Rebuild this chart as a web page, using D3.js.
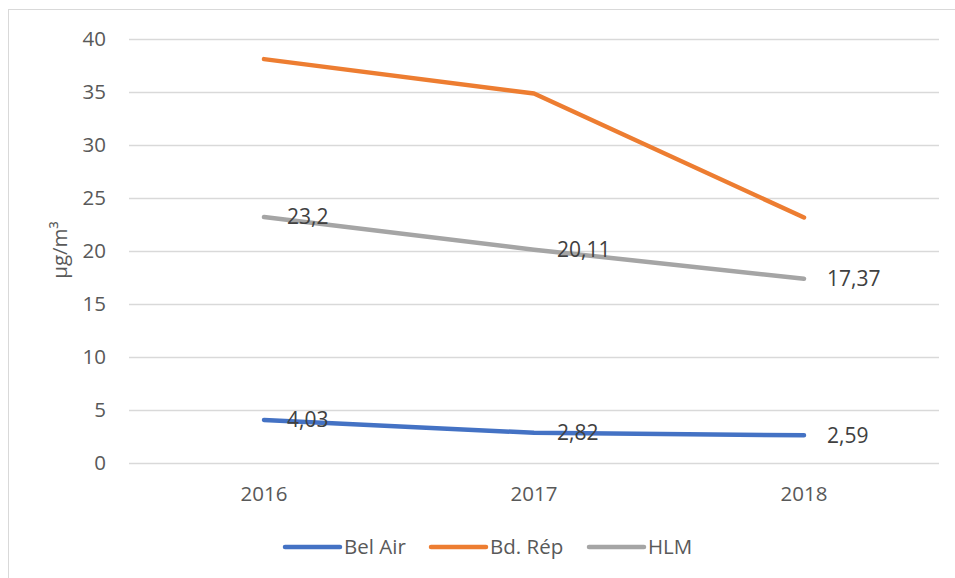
<!DOCTYPE html>
<html>
<head>
	<meta charset="utf-8">
	<title>µg/m³</title>
	<style type="text/css">
		body { margin: 0; background: white; }
		svg { font-family: "Open Sans", "Segoe UI", sans-serif; }
	</style>
</head>
<body>

	<svg width="955" height="578" class="chart"></svg>

	<script src="https://cdn.jsdelivr.net/npm/d3@7"></script>
	<script type="text/javascript">

		var years = ['2016', '2017', '2018']
		var belAir = [4.03, 2.82, 2.59]
		var bdRep = [38.1, 34.85, 23.15]
		var hlm = [23.2, 20.11, 17.37]
		var yTicks = [0, 5, 10, 15, 20, 25, 30, 35, 40]

		var series = [
			{name: 'Bel Air', values: belAir, color: '#4472C4', labels: true},
			{name: 'Bd. Rép', values: bdRep, color: '#ED7D31', labels: false},
			{name: 'HLM', values: hlm, color: '#A5A5A5', labels: true}
		]

		var svg = d3.select('.chart')

		// chart border
		svg.append('rect')
			.attr('x', 8.5).attr('y', 9.5)
			.attr('width', 960).attr('height', 600)
			.attr('fill', 'none')
			.attr('stroke', '#D9D9D9')

		var x = d3.scaleBand().domain(years).range([129, 939])
		var y = d3.scaleLinear().domain([0, 40]).range([462.7, 39])

		// gridlines
		svg.append('g').selectAll('line')
			.data(yTicks).enter().append('line')
			.attr('x1', 129).attr('x2', 939)
			.attr('y1', function(d) { return Math.round(y(d)) + 0.5 })
			.attr('y2', function(d) { return Math.round(y(d)) + 0.5 })
			.attr('stroke', '#D9D9D9')
			.attr('stroke-width', 1.3)

		// y tick labels
		svg.append('g').selectAll('text')
			.data(yTicks).enter().append('text')
			.attr('x', 106)
			.attr('y', function(d) { return y(d) })
			.attr('dy', '0.35em')
			.attr('text-anchor', 'end')
			.attr('font-size', 20.5)
			.attr('fill', '#595959')
			.text(function(d) { return d })

		// x labels
		svg.append('g').selectAll('text')
			.data(years).enter().append('text')
			.attr('x', function(d) { return x(d) + x.bandwidth() / 2 })
			.attr('y', 501)
			.attr('text-anchor', 'middle')
			.attr('font-size', 20.5)
			.attr('fill', '#595959')
			.text(function(d) { return d })

		// y axis title
		svg.append('text')
			.attr('transform', 'translate(67,250) rotate(-90)')
			.attr('text-anchor', 'middle')
			.attr('font-size', 20.5)
			.attr('fill', '#595959')
			.text('µg/m³')

		var line = d3.line()
			.x(function(d, i) { return x(years[i]) + x.bandwidth() / 2 })
			.y(function(d) { return y(d) })

		series.forEach(function(s) {
			svg.append('path')
				.attr('d', line(s.values))
				.attr('fill', 'none')
				.attr('stroke', s.color)
				.attr('stroke-width', 4.5)
				.attr('stroke-linecap', 'round')
				.attr('stroke-linejoin', 'round')
		})

		// data labels
		series.filter(function(s) { return s.labels }).forEach(function(s) {
			svg.append('g').selectAll('text')
				.data(s.values).enter().append('text')
				.attr('x', function(d, i) { return x(years[i]) + x.bandwidth() / 2 + 23 })
				.attr('y', function(d) { return y(d) })
				.attr('dy', '0.35em')
				.attr('font-size', 21)
				.attr('fill', '#404040')
				.text(function(d) { return String(d).replace('.', ',') })
		})

		// legend
		var legendX = [285, 431, 589]
		var lg = svg.append('g').selectAll('g')
			.data(series).enter().append('g')
			.attr('transform', function(d, i) { return 'translate(' + legendX[i] + ',547)' })
		lg.append('line')
			.attr('x1', 0).attr('x2', 55)
			.attr('stroke', function(d) { return d.color })
			.attr('stroke-width', 4.5)
			.attr('stroke-linecap', 'round')
		lg.append('text')
			.attr('x', 59)
			.attr('dy', '0.35em')
			.attr('font-size', 20.5)
			.attr('fill', '#595959')
			.text(function(d) { return d.name })

	</script>

</body>
</html>
